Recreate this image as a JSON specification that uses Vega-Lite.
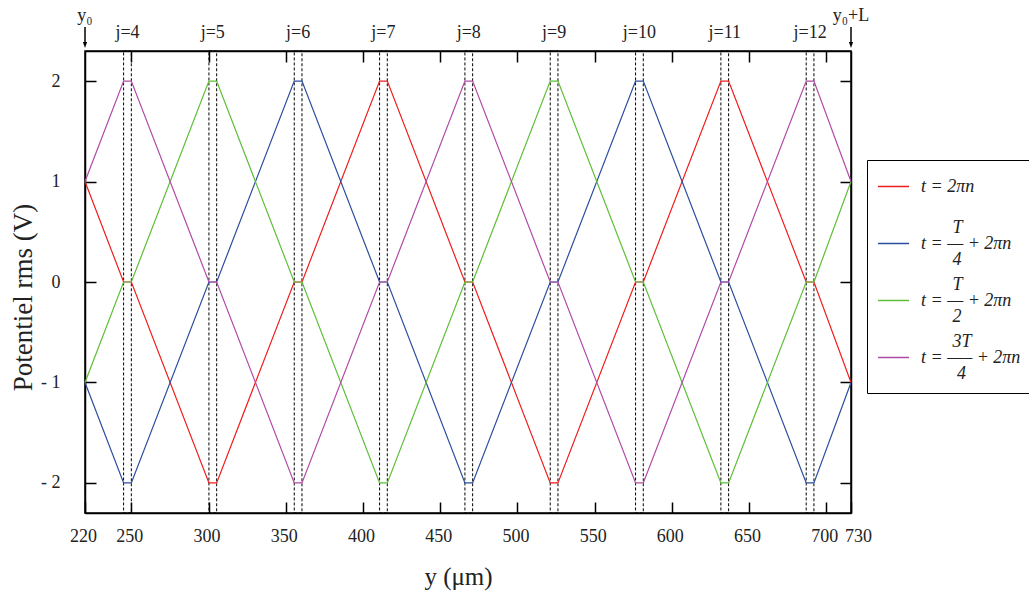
{
  "$schema": "https://vega.github.io/schema/vega-lite/v6.json",
  "width": 766,
  "height": 462,
  "autosize": {"type": "none"},
  "padding": {"left": 85, "top": 51, "right": 178, "bottom": 79},
  "background": "white",
  "config": {
    "view": {"stroke": "black", "strokeWidth": 1.5},
    "font": "Liberation Serif",
    "axis": {"grid": false, "domainColor": "black", "domainWidth": 1.5, "tickColor": "black", "tickWidth": 1.5, "labelFont": "Liberation Serif", "titleFont": "Liberation Serif", "labelColor": "#222", "titleColor": "#222", "titleFontWeight": "normal"}
  },
  "datasets": {
    "lines": [
      {"s": "t0", "pos": 220, "v": 1},
      {"s": "t0", "pos": 245, "v": 0}, {"s": "t0", "pos": 250, "v": 0},
      {"s": "t0", "pos": 300.25, "v": -2}, {"s": "t0", "pos": 305.25, "v": -2},
      {"s": "t0", "pos": 355.5, "v": 0}, {"s": "t0", "pos": 360.5, "v": 0},
      {"s": "t0", "pos": 410.75, "v": 2}, {"s": "t0", "pos": 415.75, "v": 2},
      {"s": "t0", "pos": 466, "v": 0}, {"s": "t0", "pos": 471, "v": 0},
      {"s": "t0", "pos": 521.25, "v": -2}, {"s": "t0", "pos": 526.25, "v": -2},
      {"s": "t0", "pos": 576.5, "v": 0}, {"s": "t0", "pos": 581.5, "v": 0},
      {"s": "t0", "pos": 631.75, "v": 2}, {"s": "t0", "pos": 636.75, "v": 2},
      {"s": "t0", "pos": 687, "v": 0}, {"s": "t0", "pos": 692, "v": 0},
      {"s": "t0", "pos": 716, "v": -1},
      {"s": "t1", "pos": 220, "v": -1},
      {"s": "t1", "pos": 245, "v": -2}, {"s": "t1", "pos": 250, "v": -2},
      {"s": "t1", "pos": 300.25, "v": 0}, {"s": "t1", "pos": 305.25, "v": 0},
      {"s": "t1", "pos": 355.5, "v": 2}, {"s": "t1", "pos": 360.5, "v": 2},
      {"s": "t1", "pos": 410.75, "v": 0}, {"s": "t1", "pos": 415.75, "v": 0},
      {"s": "t1", "pos": 466, "v": -2}, {"s": "t1", "pos": 471, "v": -2},
      {"s": "t1", "pos": 521.25, "v": 0}, {"s": "t1", "pos": 526.25, "v": 0},
      {"s": "t1", "pos": 576.5, "v": 2}, {"s": "t1", "pos": 581.5, "v": 2},
      {"s": "t1", "pos": 631.75, "v": 0}, {"s": "t1", "pos": 636.75, "v": 0},
      {"s": "t1", "pos": 687, "v": -2}, {"s": "t1", "pos": 692, "v": -2},
      {"s": "t1", "pos": 716, "v": -1},
      {"s": "t2", "pos": 220, "v": -1},
      {"s": "t2", "pos": 245, "v": 0}, {"s": "t2", "pos": 250, "v": 0},
      {"s": "t2", "pos": 300.25, "v": 2}, {"s": "t2", "pos": 305.25, "v": 2},
      {"s": "t2", "pos": 355.5, "v": 0}, {"s": "t2", "pos": 360.5, "v": 0},
      {"s": "t2", "pos": 410.75, "v": -2}, {"s": "t2", "pos": 415.75, "v": -2},
      {"s": "t2", "pos": 466, "v": 0}, {"s": "t2", "pos": 471, "v": 0},
      {"s": "t2", "pos": 521.25, "v": 2}, {"s": "t2", "pos": 526.25, "v": 2},
      {"s": "t2", "pos": 576.5, "v": 0}, {"s": "t2", "pos": 581.5, "v": 0},
      {"s": "t2", "pos": 631.75, "v": -2}, {"s": "t2", "pos": 636.75, "v": -2},
      {"s": "t2", "pos": 687, "v": 0}, {"s": "t2", "pos": 692, "v": 0},
      {"s": "t2", "pos": 716, "v": 1},
      {"s": "t3", "pos": 220, "v": 1},
      {"s": "t3", "pos": 245, "v": 2}, {"s": "t3", "pos": 250, "v": 2},
      {"s": "t3", "pos": 300.25, "v": 0}, {"s": "t3", "pos": 305.25, "v": 0},
      {"s": "t3", "pos": 355.5, "v": -2}, {"s": "t3", "pos": 360.5, "v": -2},
      {"s": "t3", "pos": 410.75, "v": 0}, {"s": "t3", "pos": 415.75, "v": 0},
      {"s": "t3", "pos": 466, "v": 2}, {"s": "t3", "pos": 471, "v": 2},
      {"s": "t3", "pos": 521.25, "v": 0}, {"s": "t3", "pos": 526.25, "v": 0},
      {"s": "t3", "pos": 576.5, "v": -2}, {"s": "t3", "pos": 581.5, "v": -2},
      {"s": "t3", "pos": 631.75, "v": 0}, {"s": "t3", "pos": 636.75, "v": 0},
      {"s": "t3", "pos": 687, "v": 2}, {"s": "t3", "pos": 692, "v": 2},
      {"s": "t3", "pos": 716, "v": 1}
    ],
    "elec": [
      {"label": "j=4", "c": 247.5, "lo": 245, "hi": 250},
      {"label": "j=5", "c": 302.75, "lo": 300.25, "hi": 305.25},
      {"label": "j=6", "c": 358, "lo": 355.5, "hi": 360.5},
      {"label": "j=7", "c": 413.25, "lo": 410.75, "hi": 415.75},
      {"label": "j=8", "c": 468.5, "lo": 466, "hi": 471},
      {"label": "j=9", "c": 523.75, "lo": 521.25, "hi": 526.25},
      {"label": "j=10", "c": 579, "lo": 576.5, "hi": 581.5},
      {"label": "j=11", "c": 634.25, "lo": 631.75, "hi": 636.75},
      {"label": "j=12", "c": 689.5, "lo": 687, "hi": 692}
    ],
    "ends": [
      {"pos": 220, "label": "y₀"},
      {"pos": 716, "label": "y₀+L"}
    ]
  },
  "resolve": {"axis": {"x": "independent", "y": "independent"}},
  "layer": [
    {
      "data": {"name": "elec"},
      "mark": {"type": "rect", "fill": "white", "fillOpacity": 0, "stroke": "black", "strokeWidth": 1, "strokeDash": [3, 2]},
      "encoding": {
        "x": {"field": "lo", "type": "quantitative", "scale": {"domain": [220, 716], "nice": false, "zero": false},
              "axis": {"orient": "top", "values": [250, 300, 350, 400, 450, 500, 550, 600, 650, 700], "labels": false, "tickSize": -11, "title": null}},
        "x2": {"field": "hi"}
      }
    },
    {
      "data": {"name": "lines"},
      "mark": {"type": "line", "strokeWidth": 1.2},
      "encoding": {
        "x": {"field": "pos", "type": "quantitative", "scale": {"domain": [220, 716], "nice": false, "zero": false},
              "axis": {"orient": "bottom", "values": [220, 250, 300, 350, 400, 450, 500, 550, 600, 650, 700, 716],
                       "labelExpr": "datum.value == 716 ? '730' : datum.label", "labelFlush": false, "labelOverlap": false,
                       "labelOffset": {"condition": {"test": "datum.value == 716", "value": 7}, "value": -2},
                       "tickSize": -11, "labelPadding": 25, "labelFontSize": 18, "title": "y (μm)", "titleFontSize": 25, "titlePadding": 19, "titleX": 373}},
        "y": {"field": "v", "type": "quantitative", "scale": {"domain": [-2.3, 2.3], "nice": false, "zero": false},
              "axis": {"orient": "left", "values": [-2, -1, 0, 1, 2],
                       "labelExpr": "datum.value < 0 ? '- ' + (-datum.value) : datum.label",
                       "tickSize": -11, "labelPadding": 36, "labelFontSize": 18, "title": "Potentiel rms (V)", "titleFontSize": 27, "titlePadding": 3, "titleY": 246}},
        "color": {"field": "s", "type": "nominal",
                  "scale": {"domain": ["t0", "t1", "t2", "t3"], "range": ["#f01c1c", "#2a4d9e", "#5cbf36", "#b14aa5"]},
                  "legend": {"orient": "none", "legendX": 782, "legendY": 109, "title": null,
                             "symbolType": "stroke", "symbolSize": 961, "symbolStrokeWidth": 1.5,
                             "labelFont": "Liberation Serif", "labelFontSize": 18, "labelFontStyle": "italic", "labelColor": "#222",
                             "labelOffset": 11, "labelLimit": 0, "padding": 10, "rowPadding": 6,
                             "strokeColor": "black", "fillColor": "white",
                             "labelExpr": "datum.value == 't0' ? ['\u200b', 't = 2πn', '\u200b'] : datum.value == 't1' ? ['\u200b\u2002\u2002\u2002\u2005T', 't = — + 2πn', '\u200b\u2002\u2002\u2002\u20054'] : datum.value == 't2' ? ['\u200b\u2002\u2002\u2002\u2005T', 't = — + 2πn', '\u200b\u2002\u2002\u2002\u20052'] : ['\u200b\u2002\u2002\u2002\u20053T', 't = —– + 2πn', '\u200b\u2002\u2002\u2002\u20024']",
                             "encode": {"labels": {"update": {"lineHeight": {"value": 16}, "dy": {"value": -16}}}}}}
      }
    },
    {
      "data": {"name": "elec"},
      "mark": {"type": "text", "fontSize": 18, "font": "Liberation Serif", "color": "#222", "baseline": "alphabetic", "align": "center"},
      "encoding": {
        "x": {"field": "c", "type": "quantitative", "scale": {"domain": [220, 716], "nice": false, "zero": false}, "axis": null},
        "y": {"datum": 2.434, "type": "quantitative", "scale": {"domain": [-2.3, 2.3], "nice": false, "zero": false},
              "axis": {"orient": "right", "values": [-2, -1, 0, 1, 2], "labels": false, "tickSize": -11, "title": null}},
        "text": {"field": "label"}
      }
    },
    {
      "data": {"name": "ends"},
      "mark": {"type": "rule", "color": "black", "strokeWidth": 1.5},
      "encoding": {
        "x": {"field": "pos", "type": "quantitative", "scale": {"domain": [220, 716], "nice": false, "zero": false}, "axis": null},
        "y": {"datum": 2.539, "type": "quantitative", "scale": {"domain": [-2.3, 2.3], "nice": false, "zero": false}, "axis": null},
        "y2": {"datum": 2.36}
      }
    },
    {
      "data": {"name": "ends"},
      "mark": {"type": "point", "shape": "M-0.35,-0.5L0.35,-0.5L0,0.5Z", "size": 144, "filled": true, "color": "black", "opacity": 1},
      "encoding": {
        "x": {"field": "pos", "type": "quantitative", "scale": {"domain": [220, 716], "nice": false, "zero": false}, "axis": null},
        "y": {"datum": 2.36, "type": "quantitative", "scale": {"domain": [-2.3, 2.3], "nice": false, "zero": false}, "axis": null}
      }
    },
    {
      "data": {"name": "ends"},
      "mark": {"type": "text", "fontSize": 18, "font": "Liberation Serif", "color": "#222", "baseline": "alphabetic", "align": "center"},
      "encoding": {
        "x": {"field": "pos", "type": "quantitative", "scale": {"domain": [220, 716], "nice": false, "zero": false}, "axis": null},
        "y": {"datum": 2.594, "type": "quantitative", "scale": {"domain": [-2.3, 2.3], "nice": false, "zero": false}, "axis": null},
        "text": {"field": "label"}
      }
    }
  ]
}
